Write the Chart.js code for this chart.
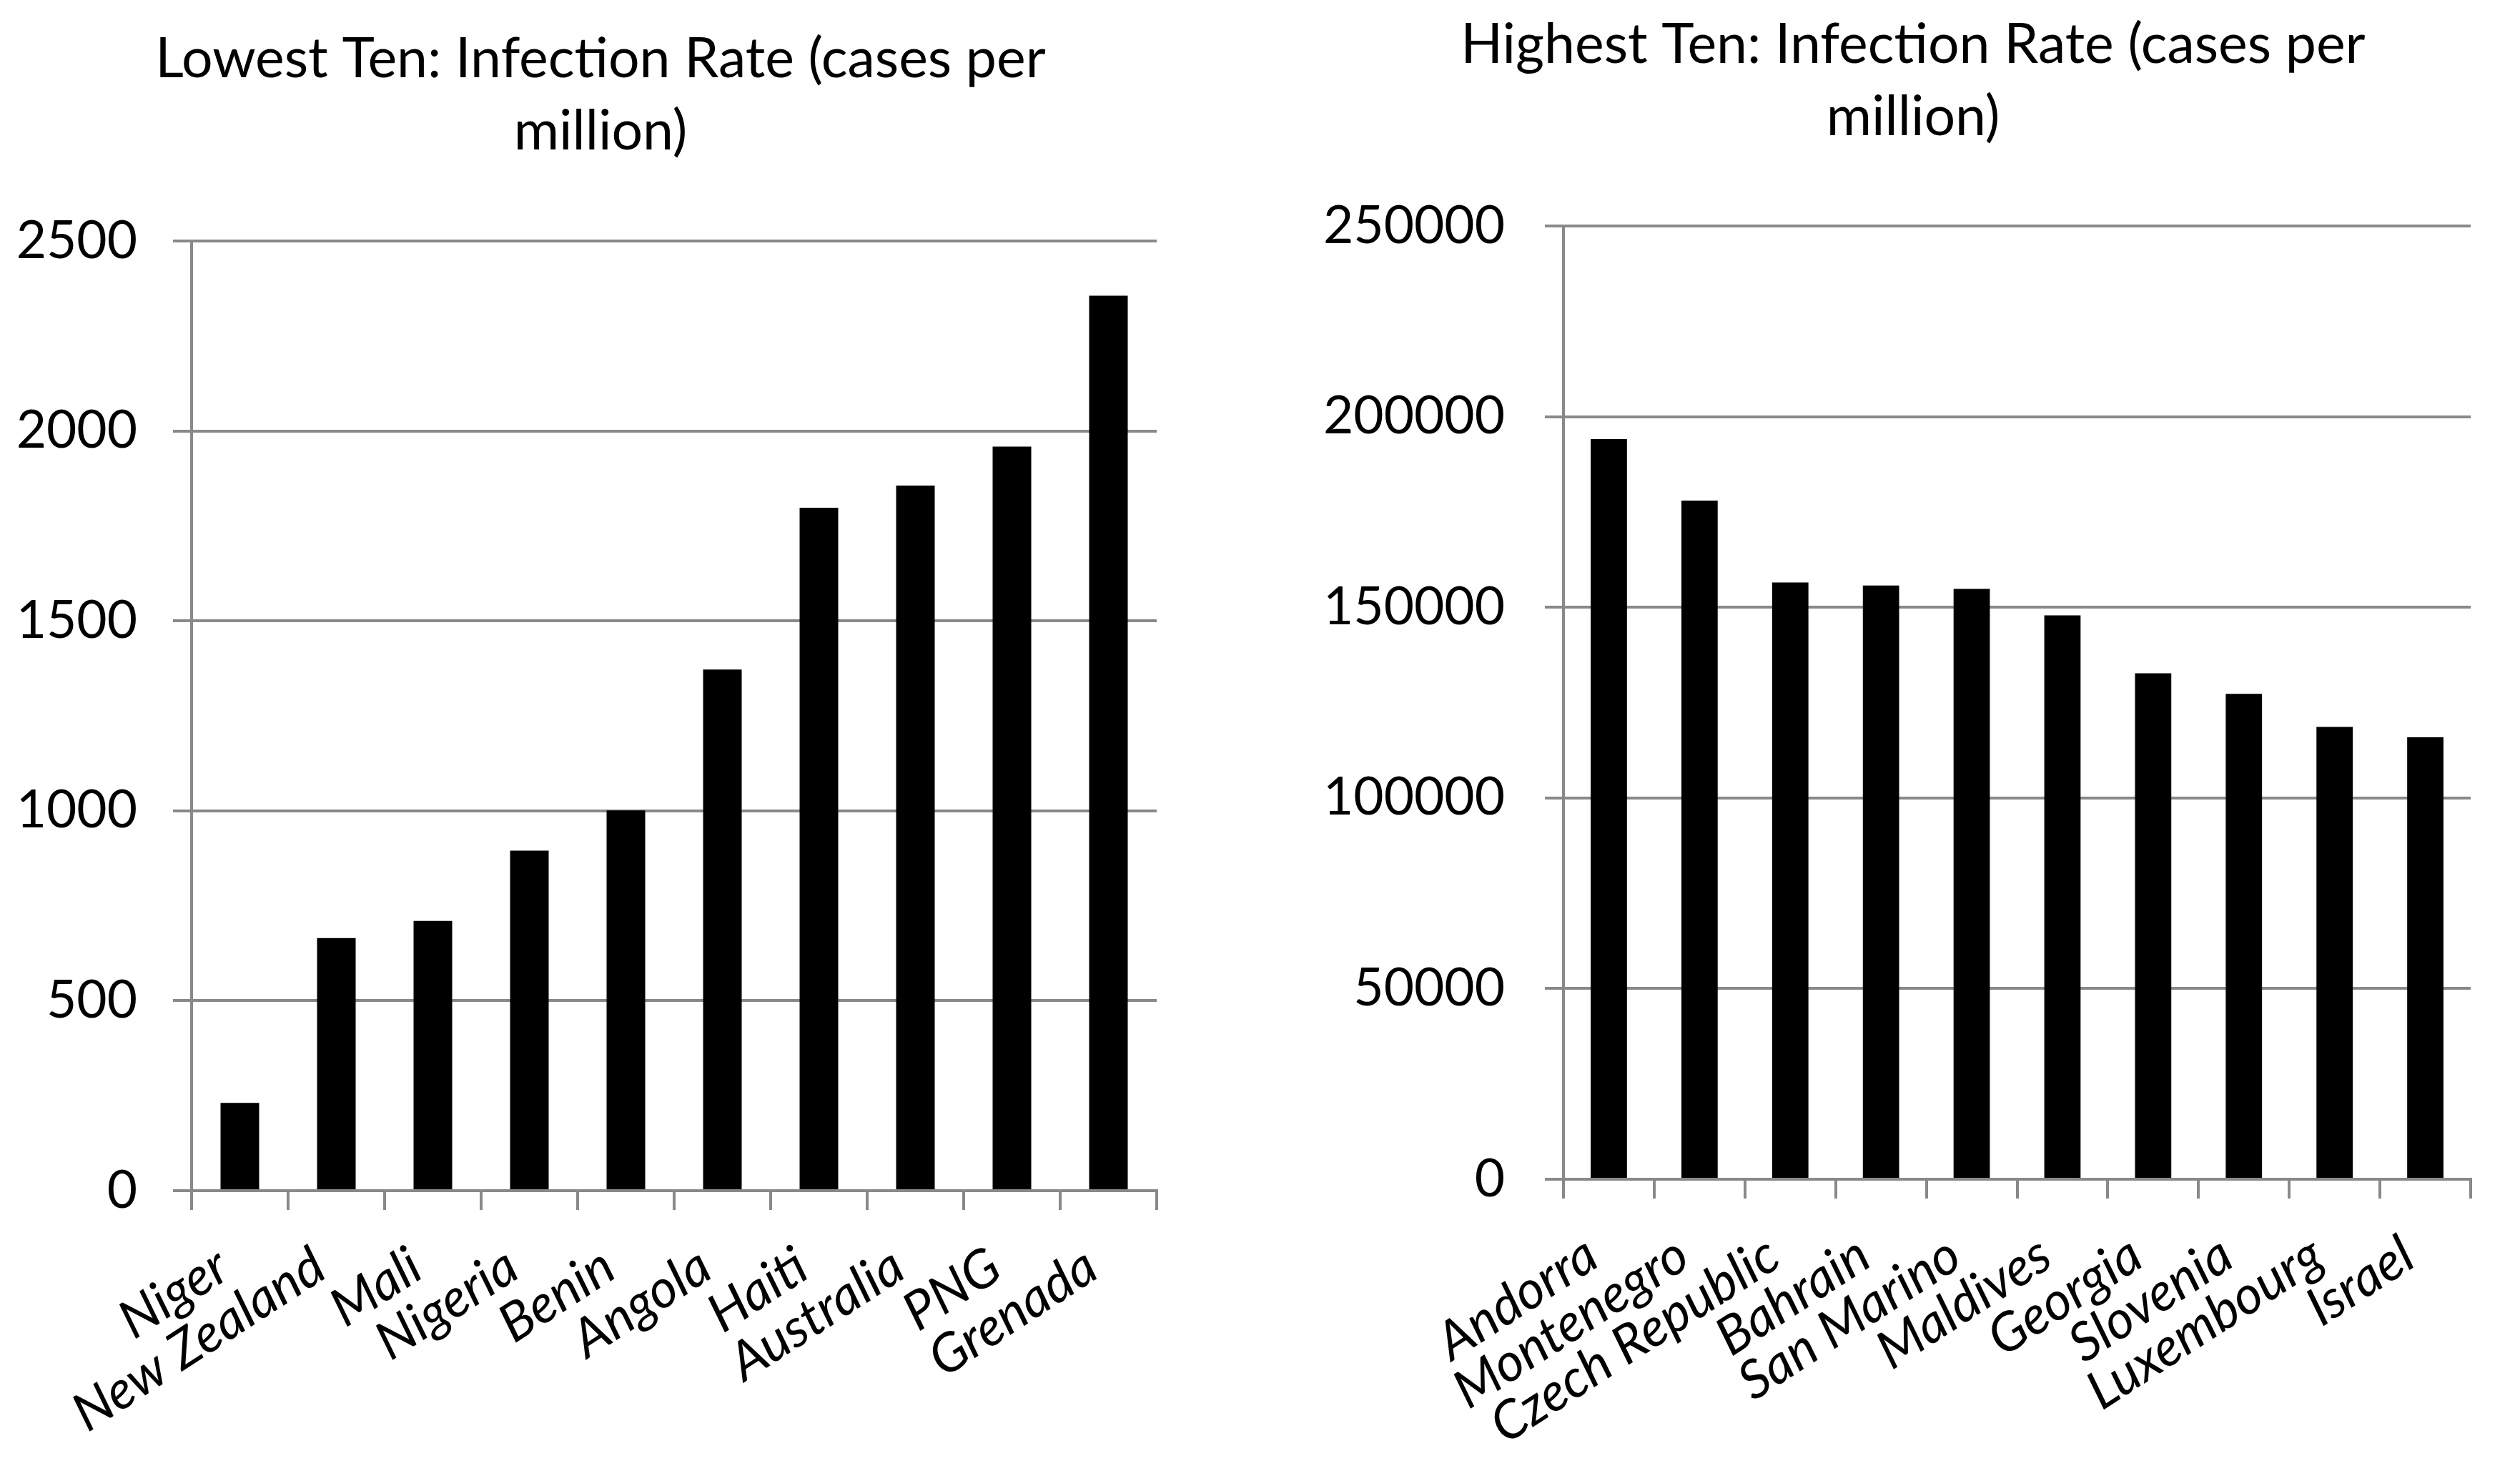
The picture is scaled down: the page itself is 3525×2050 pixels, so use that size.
<!DOCTYPE html>
<html><head><meta charset="utf-8">
<script src="https://cdn.jsdelivr.net/npm/chart.js@4.4.1/dist/chart.umd.min.js"></script>
<style>
html,body{margin:0;padding:0;background:#fff;width:3525px;height:2050px;overflow:hidden;}
canvas{position:absolute;top:0;}
#c1{left:0px}
#c2{left:1827px}
</style></head><body>
<canvas id="c1" width="1680" height="2050"></canvas>
<canvas id="c2" width="1698" height="2050"></canvas>
<script>
// ---- data ----
const lowTitle = ["Lowest Ten: Infection Rate (cases per", "million)"];
const lowCountries = ["Niger", "New Zealand", "Mali", "Nigeria", "Benin", "Angola", "Haiti", "Australia", "PNG", "Grenada"];
const lowValues = [231, 665, 710, 895, 1001, 1372, 1798, 1856, 1959, 2356];
const lowTicks = [0, 500, 1000, 1500, 2000, 2500];

const highTitle = ["Highest Ten: Infection Rate (cases per", "million)"];
const highCountries = ["Andorra", "Montenegro", "Czech Republic", "Bahrain", "San Marino", "Maldives", "Georgia", "Slovenia", "Luxembourg", "Israel"];
const highValues = [194100, 178000, 156500, 155700, 154800, 147900, 132700, 127300, 118600, 115900];
const highTicks = [0, 50000, 100000, 150000, 200000, 250000];

const FONT = "Lato, Carlito, Calibri, 'Open Sans', sans-serif";
const GRID = '#898989';

function makeChart(id, title, cats, vals, ticks, lay) {
  const step = ticks[1] - ticks[0];
  return new Chart(document.getElementById(id), {
    type: 'bar',
    data: {
      labels: cats,
      datasets: [{
        data: vals,
        backgroundColor: '#000000',
        borderWidth: 0,
        barPercentage: 0.4,
        categoryPercentage: 1.0
      }]
    },
    options: {
      responsive: false,
      devicePixelRatio: 1,
      animation: false,
      events: [],
      layout: { padding: 0 },
      plugins: {
        legend: { display: false },
        tooltip: { enabled: false },
        title: {
          display: true,
          text: title,
          color: '#000',
          font: { family: FONT, size: 77, weight: 'normal', lineHeight: 101 / 77 },
          padding: lay.titlePad
        }
      },
      scales: {
        x: {
          grid: {
            display: true,
            drawOnChartArea: false,
            drawTicks: true,
            tickLength: 27,
            color: GRID,
            lineWidth: 4,
            offset: true
          },
          border: { display: true, color: GRID, width: 4 },
          ticks: {
            color: '#000',
            font: { family: FONT, size: 74, style: 'italic', lineHeight: 1.2 },
            minRotation: 33,
            maxRotation: 33,
            autoSkip: false,
            labelOffset: -23,
            padding: lay.xPad
          },
          afterFit: s => { s.height = lay.xHeight; }
        },
        y: {
          min: ticks[0],
          max: ticks[ticks.length - 1],
          grid: {
            color: GRID,
            lineWidth: 4,
            drawTicks: true,
            tickLength: 26
          },
          border: { display: true, color: GRID, width: 4 },
          ticks: {
            stepSize: step,
            color: '#000',
            font: { family: FONT, size: 73 },
            padding: lay.yPad,
            callback: v => String(v)
          },
          afterFit: s => { s.width = lay.yWidth; }
        },
        // empty spacer on the right so the title centres as in the original
        spacer: {
          type: 'linear',
          position: 'right',
          display: true,
          grid: { display: false, drawTicks: false },
          border: { display: false },
          ticks: { display: false },
          afterFit: s => { s.width = lay.rightGap; }
        }
      }
    }
  });
}

makeChart('c1', lowTitle, lowCountries, lowValues, lowTicks, {
  titlePad: { top: 33, bottom: 102 },
  xHeight: 385, yWidth: 268, rightGap: 62, yPad: 50, xPad: 35
});
makeChart('c2', highTitle, highCountries, highValues, highTicks, {
  titlePad: { top: 13, bottom: 101 },
  xHeight: 401, yWidth: 360, rightGap: 69, yPad: 56, xPad: 35
});
</script>
</body></html>
